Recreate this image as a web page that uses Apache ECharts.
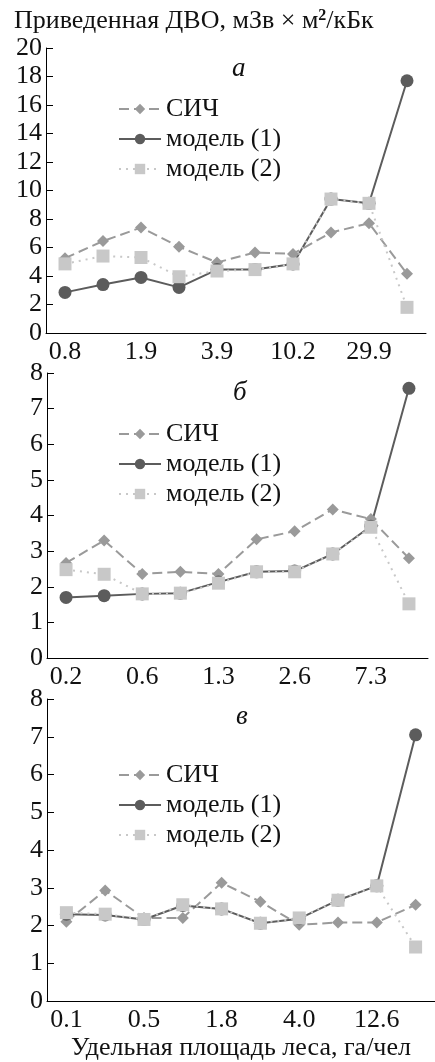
<!DOCTYPE html>
<html>
<head>
<meta charset="utf-8">
<script src="https://cdn.jsdelivr.net/npm/echarts@6/dist/echarts.min.js"></script>
<style>
  html, body { margin: 0; padding: 0; background: #fff; }
  #main { width: 435px; height: 1062px; }
</style>
</head>
<body>
<div id="main"></div>
<script>
// подписи по оси X (подписана каждая вторая категория)
const labelsA = ['0.8', '', '1.9', '', '3.9', '', '10.2', '', '29.9', ''];
const labelsB = ['0.2', '', '0.6', '', '1.3', '', '2.6', '', '7.3', ''];
const labelsC = ['0.1', '', '0.5', '', '1.8', '', '4.0', '', '12.6', ''];

// панель а
const sichA = [5.25, 6.45, 7.4, 6.05, 4.95, 5.65, 5.55, 7.05, 7.7, 4.15];
const model1A = [2.85, 3.4, 3.9, 3.2, 4.45, 4.45, 4.85, 9.4, 9.1, 17.7];
const model2A = [4.85, 5.4, 5.3, 3.95, 4.35, 4.45, 4.85, 9.4, 9.1, 1.8];

// панель б
const sichB = [2.67, 3.3, 2.36, 2.42, 2.36, 3.33, 3.56, 4.17, 3.9, 2.8];
const model1B = [1.7, 1.75, 1.8, 1.82, 2.13, 2.42, 2.44, 2.92, 3.7, 7.57];
const model2B = [2.48, 2.35, 1.8, 1.82, 2.1, 2.42, 2.42, 2.92, 3.67, 1.52];

// панель в
const sichC = [2.1, 2.93, 2.2, 2.2, 3.13, 2.63, 2.02, 2.08, 2.08, 2.55];
const model1C = [2.3, 2.28, 2.16, 2.53, 2.44, 2.06, 2.18, 2.67, 3.05, 7.05];
const model2C = [2.34, 2.3, 2.16, 2.55, 2.44, 2.06, 2.2, 2.67, 3.05, 1.43];

const names = ['СИЧ', 'модель (1)', 'модель (2)'];
const FONT = '"Liberation Serif", "DejaVu Serif", serif';
const FS = 26;
const cSich = '#9a9a9a';
const cM1 = '#5c5c5c';
const cM2 = '#c8c8c8';

const chart = echarts.init(document.getElementById('main'));

function xAxisFor(idx, labels, extra) {
  return Object.assign({
    type: 'category',
    gridIndex: idx,
    data: labels,
    boundaryGap: true,
    axisLine: { lineStyle: { color: '#000', width: 1 } },
    axisTick: { inside: true, length: 7, interval: 0, lineStyle: { color: '#000' } },
    axisLabel: { interval: 0, color: '#111', fontFamily: FONT, fontSize: FS, margin: 6 },
    splitLine: { show: false }
  }, extra || {});
}

function yAxisFor(idx, max, step) {
  return {
    type: 'value',
    gridIndex: idx,
    min: 0,
    max: max,
    interval: step,
    axisLine: { show: true, lineStyle: { color: '#000', width: 1 } },
    axisTick: { show: true, inside: true, length: 7, lineStyle: { color: '#000' } },
    axisLabel: { color: '#111', fontFamily: FONT, fontSize: FS, margin: 4 },
    splitLine: { show: false }
  };
}

function seriesFor(idx, sich, m1, m2) {
  return [
    {
      name: names[0], type: 'line', xAxisIndex: idx, yAxisIndex: idx, data: sich,
      symbol: 'diamond', symbolSize: 12,
      lineStyle: { color: cSich, width: 2, type: [10, 5] },
      itemStyle: { color: cSich }
    },
    {
      name: names[1], type: 'line', xAxisIndex: idx, yAxisIndex: idx, data: m1,
      symbol: 'circle', symbolSize: 13,
      lineStyle: { color: cM1, width: 2 },
      itemStyle: { color: cM1 }
    },
    {
      name: names[2], type: 'line', xAxisIndex: idx, yAxisIndex: idx, data: m2,
      symbol: 'rect', symbolSize: 13,
      lineStyle: { color: cM2, width: 2, type: [2, 5] },
      itemStyle: { color: cM2 }
    }
  ];
}

function legendAt(top) {
  return {
    data: names,
    orient: 'vertical',
    left: 113,
    top: top,
    itemWidth: 42,
    itemHeight: 13,
    itemGap: 4,
    textStyle: { fontFamily: FONT, fontSize: FS, color: '#111' }
  };
}

function panelLetter(ch, left, top) {
  return {
    text: ch, left: left, top: top,
    textStyle: { fontFamily: FONT, fontStyle: 'italic', fontWeight: 'normal', fontSize: 27, color: '#111' }
  };
}

const option = {
  animation: false,
  backgroundColor: '#fff',
  title: [
    {
      text: '{a|Приведенная ДВО, мЗв × м}{s|2}{a|/кБк}',
      left: 9, top: 3,
      textStyle: {
        rich: {
          a: { fontFamily: FONT, fontSize: FS, color: '#111', fontWeight: 'normal' },
          s: { fontFamily: FONT, fontSize: 16, color: '#111', verticalAlign: 'top', padding: [0, 0, 11, 0] }
        }
      }
    },
    panelLetter('а', 227, 50),
    panelLetter('б', 228, 374),
    panelLetter('в', 231, 698)
  ],
  legend: [legendAt(91), legendAt(416), legendAt(757)],
  grid: [
    { left: 46, top: 48, width: 380, height: 285 },
    { left: 47, top: 373, width: 381, height: 285 },
    { left: 47, top: 699, width: 389, height: 303 }
  ],
  xAxis: [
    xAxisFor(0, labelsA),
    xAxisFor(1, labelsB),
    xAxisFor(2, labelsC, {
      name: 'Удельная площадь леса, га/чел',
      nameLocation: 'middle',
      nameGap: 34,
      nameTextStyle: { fontFamily: FONT, fontSize: FS, color: '#111' }
    })
  ],
  yAxis: [yAxisFor(0, 20, 2), yAxisFor(1, 8, 1), yAxisFor(2, 8, 1)],
  series: []
    .concat(seriesFor(0, sichA, model1A, model2A))
    .concat(seriesFor(1, sichB, model1B, model2B))
    .concat(seriesFor(2, sichC, model1C, model2C))
};

chart.setOption(option);
</script>
</body>
</html>
